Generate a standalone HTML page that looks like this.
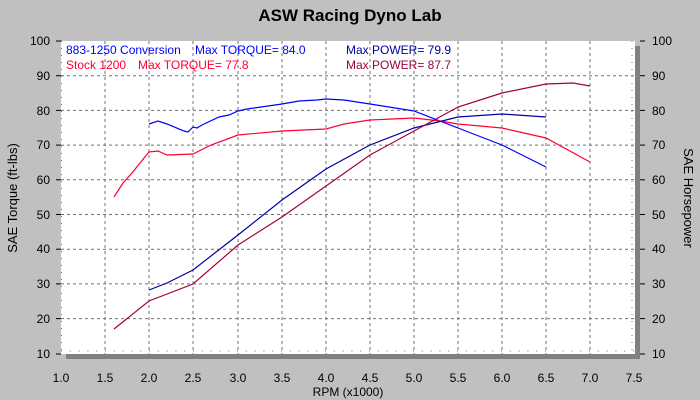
<!DOCTYPE html>
<html><head><style>
body{margin:0;background:#c0c0c0;}
svg{display:block;font-family:"Liberation Sans",sans-serif;}
</style></head><body>
<svg width="700" height="400" xmlns="http://www.w3.org/2000/svg">
<rect width="700" height="400" fill="#c0c0c0"/>
<text x="350" y="21" text-anchor="middle" font-size="17" font-weight="bold" fill="#000">ASW Racing Dyno Lab</text>
<rect x="66" y="46" width="574" height="313" fill="#808080"/>
<rect x="61" y="41" width="574" height="313" fill="#fff"/>
<g stroke="#707070" stroke-dasharray="3,3" stroke-width="1">
<line x1="105" y1="41" x2="105" y2="354"/><line x1="149" y1="41" x2="149" y2="354"/><line x1="193" y1="41" x2="193" y2="354"/><line x1="238" y1="41" x2="238" y2="354"/><line x1="282" y1="41" x2="282" y2="354"/><line x1="326" y1="41" x2="326" y2="354"/><line x1="370" y1="41" x2="370" y2="354"/><line x1="414" y1="41" x2="414" y2="354"/><line x1="458" y1="41" x2="458" y2="354"/><line x1="502" y1="41" x2="502" y2="354"/><line x1="546" y1="41" x2="546" y2="354"/><line x1="590" y1="41" x2="590" y2="354"/>
<line x1="61" y1="75.7" x2="635" y2="75.7"/><line x1="61" y1="110.4" x2="635" y2="110.4"/><line x1="61" y1="145.1" x2="635" y2="145.1"/><line x1="61" y1="179.8" x2="635" y2="179.8"/><line x1="61" y1="214.5" x2="635" y2="214.5"/><line x1="61" y1="249.2" x2="635" y2="249.2"/><line x1="61" y1="283.9" x2="635" y2="283.9"/><line x1="61" y1="318.6" x2="635" y2="318.6"/>
</g>
<g stroke="#707070" stroke-width="1" stroke-dasharray="1,5.93">
<line x1="61" y1="41" x2="66" y2="41"/>
<line x1="61.5" y1="41" x2="61.5" y2="354" stroke-dasharray="1,6" />
<line x1="61" y1="351" x2="635" y2="351" stroke-dasharray="1,7.8"/>
<line x1="632" y1="41" x2="632" y2="354" stroke-dasharray="1,6"/>
</g>
<g stroke="#000" stroke-width="1">
<line x1="56" y1="41" x2="61" y2="41"/><line x1="56" y1="75.7" x2="61" y2="75.7"/><line x1="56" y1="110.4" x2="61" y2="110.4"/><line x1="56" y1="145.1" x2="61" y2="145.1"/><line x1="56" y1="179.8" x2="61" y2="179.8"/><line x1="56" y1="214.5" x2="61" y2="214.5"/><line x1="56" y1="249.2" x2="61" y2="249.2"/><line x1="56" y1="283.9" x2="61" y2="283.9"/><line x1="56" y1="318.6" x2="61" y2="318.6"/><line x1="56" y1="354" x2="61" y2="354"/>
<line x1="640" y1="41" x2="645" y2="41"/><line x1="640" y1="75.7" x2="645" y2="75.7"/><line x1="640" y1="110.4" x2="645" y2="110.4"/><line x1="640" y1="145.1" x2="645" y2="145.1"/><line x1="640" y1="179.8" x2="645" y2="179.8"/><line x1="640" y1="214.5" x2="645" y2="214.5"/><line x1="640" y1="249.2" x2="645" y2="249.2"/><line x1="640" y1="283.9" x2="645" y2="283.9"/><line x1="640" y1="318.6" x2="645" y2="318.6"/><line x1="640" y1="354" x2="645" y2="354"/>
</g>
<g font-size="12" fill="#000" text-anchor="end">
<text x="50" y="45">100</text><text x="50" y="80">90</text><text x="50" y="115">80</text><text x="50" y="149">70</text><text x="50" y="184">60</text><text x="50" y="219">50</text><text x="50" y="253">40</text><text x="50" y="288">30</text><text x="50" y="323">20</text><text x="50" y="358">10</text>
</g>
<g font-size="12" fill="#000" text-anchor="start">
<text x="652" y="45">100</text><text x="652" y="80">90</text><text x="652" y="115">80</text><text x="652" y="149">70</text><text x="652" y="184">60</text><text x="652" y="219">50</text><text x="652" y="253">40</text><text x="652" y="288">30</text><text x="652" y="323">20</text><text x="652" y="358">10</text>
</g>
<g font-size="12" fill="#000" text-anchor="middle">
<text x="61" y="382">1.0</text><text x="105" y="382">1.5</text><text x="149" y="382">2.0</text><text x="193" y="382">2.5</text><text x="238" y="382">3.0</text><text x="282" y="382">3.5</text><text x="326" y="382">4.0</text><text x="370" y="382">4.5</text><text x="414" y="382">5.0</text><text x="458" y="382">5.5</text><text x="502" y="382">6.0</text><text x="546" y="382">6.5</text><text x="590" y="382">7.0</text><text x="634" y="382">7.5</text>
<text x="348" y="396">RPM (x1000)</text>
</g>
<text transform="translate(17,198) rotate(-90)" font-size="13" text-anchor="middle">SAE Torque (ft-lbs)</text>
<text transform="translate(684,198) rotate(90)" font-size="13" text-anchor="middle">SAE Horsepower</text>
<g fill="none" stroke-width="1.2">
<polyline stroke="#0000ff" points="149,124 158,121 167,124 184,131 188,132 193,127 197,128 202,125 219,117 229,115 238,111 247,109 282,104 299,101 317,100 326,99 344,100 370,104 414,111 458,128 502,145 546,167"/>
<polyline stroke="#ff0033" points="114,197 123,183 132,173 140,163 149,152 158,151 167,155 193,154 211,145 238,135 282,131 326,129 344,124 370,120 414,118 440,121 458,124 502,128 546,138 590,162"/>
<polyline stroke="#0000a0" points="149,290 167,283 193,270 238,235 282,200 326,169 370,145 414,128 458,117 502,114 546,117"/>
<polyline stroke="#a00040" points="114,329 149,301 193,284 238,245 282,217 326,186 370,155 414,131 458,107 502,93 546,84 573,83 590,86"/>
</g>
<g font-size="12">
<text x="66" y="54" fill="#0000ff">883-1250 Conversion</text>
<text x="195" y="54" fill="#0000ff">Max TORQUE= 84.0</text>
<text x="66" y="69" fill="#ff0033">Stock 1200</text>
<text x="138" y="69" fill="#ff0033">Max TORQUE= 77.8</text>
<text x="346" y="54" fill="#0000a0">Max POWER= 79.9</text>
<text x="346" y="69" fill="#a00040">Max POWER= 87.7</text>
</g>
</svg>
</body></html>
